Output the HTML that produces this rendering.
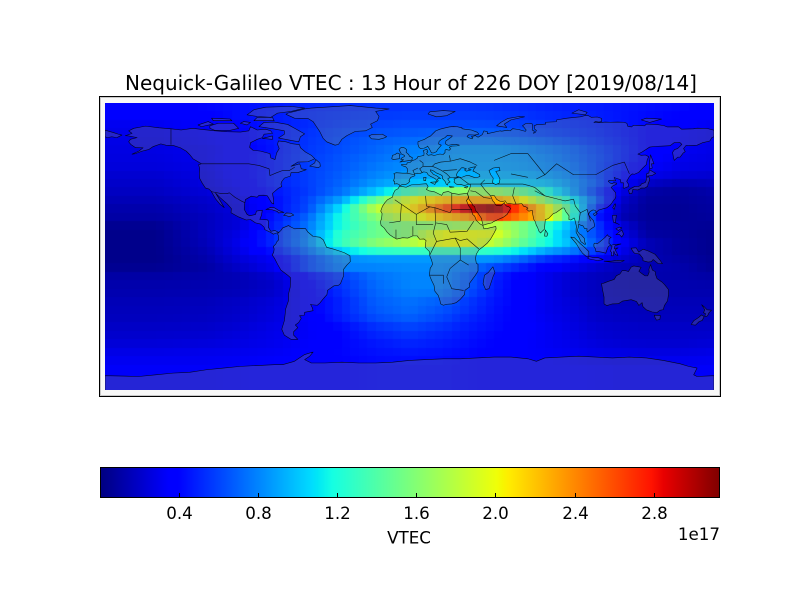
<!DOCTYPE html>
<html>
<head>
<meta charset="utf-8">
<style>
html,body{margin:0;padding:0;background:#fff;}
#wrap{position:relative;width:800px;height:600px;overflow:hidden;background:#fff;font-family:"DejaVu Sans","Liberation Sans",sans-serif;}
#fb{position:absolute;left:105px;top:103px;width:609px;height:287px;
background:
 radial-gradient(ellipse 45px 10px at 375px 108px,#a00000,rgba(255,96,0,0)),
 radial-gradient(ellipse 120px 28px at 360px 115px,#ffc000,rgba(255,255,0,0)),
 radial-gradient(ellipse 220px 50px at 330px 118px,#60ffa0,rgba(0,200,255,0)),
 radial-gradient(ellipse 300px 120px at 330px 100px,#1090ff,rgba(0,0,255,0)),
 #0000c0;}
#c{position:absolute;left:105px;top:103px;}
#ov{position:absolute;left:0;top:0;}
</style>
</head>
<body>
<div id="wrap">
<svg width="800" height="600" style="position:absolute;left:0;top:0">
<rect x="100" y="97" width="620" height="299" fill="#f7f7f7"/>
</svg>
<div id="fb"></div>
<canvas id="c" width="609" height="287"></canvas>
<script>
(function(){
var L=[-180,-150,-120,-100,-80,-60,-40,-20,0,20,35,50,65,80,95,110,125,140,160,180];
var R=[
[.37,.37,.40,.43,.46,.50,.52,.54,.55,.55,.55,.54,.52,.50,.48,.47,.45,.43,.41,.37],
[.35,.35,.38,.43,.47,.52,.55,.57,.58,.58,.58,.57,.55,.52,.50,.48,.45,.42,.39,.35],
[.31,.31,.35,.40,.46,.52,.57,.60,.62,.62,.62,.61,.59,.56,.53,.50,.46,.41,.36,.31],
[.29,.29,.33,.39,.46,.54,.60,.64,.66,.68,.68,.67,.64,.60,.56,.52,.46,.40,.34,.29],
[.28,.28,.32,.38,.46,.55,.62,.68,.72,.75,.75,.75,.72,.68,.62,.55,.48,.40,.33,.29],
[.27,.27,.30,.37,.45,.56,.63,.70,.78,.82,.85,.85,.82,.76,.70,.60,.50,.40,.32,.28],
[.26,.26,.30,.38,.46,.57,.65,.73,.80,.85,.87,.87,.85,.80,.72,.62,.50,.38,.30,.27],
[.25,.25,.28,.38,.46,.58,.66,.76,.83,.87,.88,.88,.87,.82,.75,.62,.47,.35,.28,.26],
[.22,.22,.27,.37,.48,.58,.68,.80,.88,.92,.93,.93,.92,.88,.80,.62,.44,.30,.24,.22],
[.20,.20,.26,.35,.48,.58,.70,.86,.98,1.02,1.02,1.02,1.02,.98,.85,.66,.38,.20,.14,.17],
[.18,.18,.24,.32,.45,.57,.74,1.0,1.35,1.58,1.65,1.65,1.50,1.22,.90,.58,.28,.11,.08,.12],
[.15,.15,.21,.28,.42,.60,.90,1.45,1.95,2.2,2.3,2.3,2.1,1.6,1.15,.68,.22,.08,.07,.10],
[.12,.12,.19,.26,.42,.62,1.10,1.80,2.05,2.55,2.95,3.10,2.60,2.10,1.35,.55,.18,.07,.06,.09],
[.10,.10,.17,.25,.45,.70,1.20,1.60,1.90,2.20,2.35,2.70,2.45,2.15,1.30,.50,.15,.07,.06,.08],
[.05,.05,.17,.25,.48,.75,1.20,1.50,1.60,1.65,1.72,1.80,1.60,1.30,.95,.58,.25,.08,.07,.06],
[.03,.03,.17,.28,.52,.78,1.28,1.50,1.60,2.0,2.0,1.95,1.60,1.25,.90,.60,.30,.10,.07,.04],
[.03,.03,.16,.30,.52,.80,1.30,1.60,1.75,2.0,2.0,1.80,1.50,1.20,.95,.65,.35,.15,.08,.04],
[.03,.03,.14,.28,.45,.72,1.05,1.25,1.30,1.30,1.30,1.25,1.12,.90,.78,.55,.30,.15,.08,.04],
[.03,.03,.12,.24,.33,.60,.82,.86,.86,.86,.85,.84,.72,.55,.45,.35,.22,.15,.10,.05],
[.05,.05,.10,.20,.30,.60,.78,.80,.82,.82,.75,.62,.50,.38,.30,.22,.16,.14,.12,.06],
[.10,.10,.12,.15,.22,.42,.58,.74,.80,.80,.68,.50,.38,.30,.22,.17,.14,.13,.12,.10],
[.12,.12,.13,.15,.20,.38,.55,.72,.80,.80,.66,.48,.37,.30,.22,.17,.14,.13,.13,.12],
[.13,.13,.14,.16,.21,.36,.53,.70,.78,.76,.62,.47,.37,.30,.22,.17,.15,.14,.13,.13],
[.15,.15,.16,.19,.24,.35,.50,.68,.74,.68,.56,.45,.38,.30,.24,.18,.16,.16,.15,.15],
[.16,.16,.17,.20,.25,.35,.50,.66,.72,.64,.54,.44,.37,.30,.25,.19,.17,.16,.16,.16],
[.17,.17,.18,.21,.26,.34,.48,.62,.68,.60,.50,.43,.37,.31,.26,.20,.18,.17,.17,.17],
[.19,.19,.20,.23,.28,.33,.42,.54,.60,.54,.47,.42,.37,.32,.27,.22,.20,.19,.19,.19],
[.21,.21,.22,.25,.29,.33,.40,.50,.55,.50,.45,.40,.36,.32,.28,.23,.21,.20,.20,.21],
[.24,.24,.25,.27,.30,.34,.40,.46,.50,.47,.43,.39,.35,.32,.29,.25,.23,.22,.22,.24],
[.28,.28,.29,.30,.32,.35,.40,.44,.46,.44,.41,.38,.35,.33,.31,.28,.27,.26,.26,.28],
[.31,.31,.31,.32,.34,.36,.39,.42,.43,.42,.40,.38,.36,.35,.33,.31,.30,.30,.30,.31],
[.33,.33,.33,.34,.35,.37,.39,.41,.41,.41,.40,.39,.37,.36,.35,.34,.33,.33,.33,.33],
[.33,.33,.33,.34,.35,.37,.39,.41,.41,.41,.40,.39,.37,.36,.35,.34,.33,.33,.33,.33],
[.33,.33,.33,.34,.35,.37,.39,.41,.41,.41,.40,.39,.37,.36,.35,.34,.33,.33,.33,.33]
];
function itp(x,xs,ys){if(x<=xs[0])return ys[0];for(var i=1;i<xs.length;i++){if(x<=xs[i]){var f=(x-xs[i-1])/(xs[i]-xs[i-1]);return ys[i-1]+f*(ys[i]-ys[i-1]);}}return ys[ys.length-1];}
function jet(t){t=Math.max(0,Math.min(1,t));
var r=itp(t,[0,.35,.66,.89,1],[0,0,1,1,.5]);
var g=itp(t,[0,.125,.375,.64,.91,1],[0,0,1,1,0,0]);
var b=itp(t,[0,.11,.34,.65,1],[.5,1,1,0,0]);
return 'rgb('+Math.round(r*255)+','+Math.round(g*255)+','+Math.round(b*255)+')';}
var cv=document.getElementById('c');if(!cv.getContext)return;var ctx=cv.getContext('2d');
var W=609,H=287,cw=W/72,rh=H/34;
for(var r=0;r<34;r++){var y0=Math.round(r*rh),y1=Math.round((r+1)*rh);
for(var c=0;c<72;c++){var lon=-177.5+5*c;var v=itp(lon,L,R[r]);ctx.fillStyle=jet(v/3.131);
var x0=Math.round(c*cw),x1=Math.round((c+1)*cw);ctx.fillRect(x0,y0,x1-x0,y1-y0);}}
})();
</script>
<svg id="ov" width="800" height="600" xmlns="http://www.w3.org/2000/svg">
<defs>
<clipPath id="mc"><rect x="105" y="103" width="609" height="287"/></clipPath>
<linearGradient id="jet" x1="0" y1="0" x2="1" y2="0">
<stop offset="0" stop-color="#000080"/>
<stop offset="0.11" stop-color="#0000ff"/>
<stop offset="0.125" stop-color="#0000ff"/>
<stop offset="0.34" stop-color="#00dbff"/>
<stop offset="0.35" stop-color="#00e6f7"/>
<stop offset="0.375" stop-color="#15ffe2"/>
<stop offset="0.64" stop-color="#efff08"/>
<stop offset="0.65" stop-color="#f7f600"/>
<stop offset="0.66" stop-color="#ffec00"/>
<stop offset="0.89" stop-color="#ff1300"/>
<stop offset="0.91" stop-color="#e80000"/>
<stop offset="1" stop-color="#800000"/>
</linearGradient>
</defs>
<g clip-path="url(#mc)">
<g transform="translate(409.5,246.5) scale(1.691667,-1.688235)" fill="rgba(128,128,128,0.29)" stroke="#000" stroke-opacity="0.85" stroke-width="0.6" stroke-linejoin="round" fill-rule="evenodd">
<path vector-effect="non-scaling-stroke" d="M-166,68.5 -163,70 -156,71.3 -148,70.3 -141,69.7 -135,69 -128,70 -124,69.5 -115,68.5 -108,68 -100,67.8 -95,68.5 -94,71 -90,69 -85,69.5 -82,68.5 -81,67 -86,66.5 -87,64.5 -90,63.5 -94,61.5 -94.5,58.7 -92.5,57 -88,56.5 -82.5,55 -82,52.5 -79.5,51.5 -78.5,55.5 -77,58 -78,60.5 -77.5,62.5 -73,62 -70,61 -65,60.3 -64.5,58.5 -61.5,56 -58,54 -56,52 -60,50.2 -66,50 -70,47.5 -65,49 -64.5,48 -64,46 -61,45.5 -66,43.8 -70,43.8 -70.5,41.7 -74,40.5 -75.5,38.5 -76,37 -75.5,35.5 -77.5,34.5 -81,31.5 -80.3,27.5 -80.3,25.2 -81.5,25.8 -82.8,28 -84,30 -86,30.4 -89,30.3 -90,29.2 -93.5,29.8 -97,27.8 -97.5,25 -97.7,22 -96,19 -94.5,18.2 -91,19 -90.5,21 -87,21.5 -87.5,18.5 -88.5,16 -84,15.8 -83.3,15 -83.5,11.5 -82,9 -79.5,9.5 -77.3,8.3 -78.5,8 -80.5,7.3 -82,8.3 -85.5,10 -86,11.5 -88,13.3 -91,14 -94,16 -96.5,15.7 -101,17.5 -105.5,20 -105.3,22.5 -108,25.5 -112,29 -114.7,31.7 -113,29 -109.5,23 -112,25 -114.5,28 -116.7,31.8 -117.2,32.7 -118.5,34 -120.6,34.6 -122.5,37.5 -124,40.3 -124.2,43 -124,46.3 -124.7,48.4 -123,49 -125.5,50.5 -128,52 -130,54.5 -132,56.5 -135.5,58.5 -139.5,59.8 -144,60 -147,60.8 -151.5,59.2 -154,57.5 -158,56.5 -162,55 -164,54.7 -160,56.5 -157.5,58.5 -162,58.6 -164.8,60.5 -166,62 -165,63.5 -161,64.5 -166,65.5 -168,65.6 -164,67 -166,68.5 Z"/>
<path vector-effect="non-scaling-stroke" d="M-59,47.6 -56,49.5 -55.5,51.6 -53,49.5 -52.7,47.5 -53.8,46.7 -55.5,47 Z"/>
<path vector-effect="non-scaling-stroke" d="M-80,73.7 -72,72.3 -67,69.5 -62,66.7 -64.5,65 -65.5,62 -70,62.8 -77.5,64.3 -74,66.5 -74,68.5 -81,69.8 -89,71 -86,73.5 Z"/>
<path vector-effect="non-scaling-stroke" d="M-118,71.5 -113,73 -104,73 -101,70 -106,68.8 -115,68.8 -118,70 Z"/>
<path vector-effect="non-scaling-stroke" d="M-125,72 -119,74 -116,72.5 -123,71 Z"/>
<path vector-effect="non-scaling-stroke" d="M-117,76 -106,75.5 -105,74.5 -116,74.5 Z"/>
<path vector-effect="non-scaling-stroke" d="M-92,74.5 -80,74.5 -81,76.5 -90,76.5 Z"/>
<path vector-effect="non-scaling-stroke" d="M-90,77 -82,76.5 -78,79 -70,80 -62,82 -70,83 -85,82.5 -92,81 -96,78 Z"/>
<path vector-effect="non-scaling-stroke" d="M-87,64 -81,65.5 -81,63.5 Z"/>
<path vector-effect="non-scaling-stroke" d="M-100,73 -96,72 -94,73.5 -98,74 Z"/>
<path vector-effect="non-scaling-stroke" d="M-73,78.3 -68,76 -60,75.8 -57,74 -55,71 -53,68 -51,64 -49,62 -44,60 -42,60.5 -40,63.5 -37,65.7 -32,68.2 -26,68.5 -22,70.5 -23,72.5 -19,74.5 -18,77 -20,80 -12,81.5 -20,82 -35,83.5 -50,82.5 -58,82 -62,81.5 -68,80 -72,79 Z"/>
<path vector-effect="non-scaling-stroke" d="M-24,65.5 -22,66.4 -16,66.5 -13.5,65 -15,64.3 -18,63.5 -22.5,63.8 Z"/>
<path vector-effect="non-scaling-stroke" d="M-180,68.9 -175,67.5 -172,66.5 -170,66 -171,65.5 -173,64.5 -176,65 -178.5,64.5 -180,65 Z"/>
<path vector-effect="non-scaling-stroke" d="M-84.9,21.9 -82,23.2 -80,23 -77,21.2 -74.2,20.2 -77.5,19.9 -78,20.7 -81,21.7 -83.5,22 Z"/>
<path vector-effect="non-scaling-stroke" d="M-74.4,18.4 -72.7,19.9 -70,19.7 -68.4,18.6 -71.4,17.6 -72.5,18.2 Z"/>
<path vector-effect="non-scaling-stroke" d="M-77.3,8.3 -76,9.5 -75,11 -71.5,12.4 -70,11.5 -68,10.5 -64,10.7 -61.5,10.6 -60,8.5 -57,6 -53,5.5 -51,4 -50,1.8 -49,-0.5 -45,-1.5 -41,-2.8 -38.5,-3.7 -35.2,-5.5 -35,-9 -37,-11 -39,-13.5 -39,-17.5 -40.8,-22 -42,-23 -44.7,-23.3 -48.5,-26 -48.8,-28.5 -51,-31 -53,-33.5 -54.5,-34.8 -57.5,-34.5 -58.5,-34.2 -57.5,-36.2 -57,-38 -62,-39 -62.3,-40.8 -65,-41 -64,-42.5 -65.5,-45 -67.5,-46.5 -66,-48 -68.5,-50.5 -68.5,-52.5 -66,-55 -70,-55 -74,-52.5 -75.5,-49 -74,-44 -73.5,-40 -73.2,-37 -71.5,-32 -71.5,-28 -70.5,-24 -70.3,-18.5 -72,-17 -76,-14 -78,-10.5 -79.8,-7 -81.2,-5 -80.3,-3.5 -80,-1.5 -80.5,0 -79,1.5 -78.5,2.7 -77.3,4 -77.5,6.5 -78,7.5 Z"/>
<path vector-effect="non-scaling-stroke" d="M-5.9,35.8 -2,35.1 1,36.5 5,36.8 10,37.2 11,35.5 10,33.8 11.5,33 15,32.3 19,30.3 20,32 23,32.6 25,31.6 29,30.9 32.3,31.3 34.2,31.3 34.9,29.5 34.3,27.8 33.6,27.4 35,24 36.5,22 37.3,19 38.5,18 39.5,15.5 41.5,13.5 43.3,12.5 44,10.5 46,10.7 51,11.9 51.2,10.4 50,8 48,4.5 46,2 43,-0.5 41,-2 39.5,-4.5 39,-7 39.5,-10 40.5,-10.5 40.5,-14.5 39,-17 35.3,-22 35.5,-24 32.8,-25.9 32.5,-28.5 30,-31.3 27.5,-33.3 25,-34 22,-34.2 20,-34.8 18.4,-34 18,-32 17,-29 15,-26.5 14.5,-23 13,-20 11.8,-17 12.2,-13 13.7,-10.5 13,-8 12,-5.5 11.8,-3 9.3,-0.5 9.5,2 9.8,3.5 8.5,4.5 6,4.3 4.5,6.3 2,6.3 -1,5 -4,5.2 -7.5,4.4 -9.5,5.5 -11.5,6.8 -13.2,8.5 -15,11 -16.8,12.5 -17.2,14.7 -16.5,16.5 -16.2,19.5 -17,21 -16,23.8 -14.5,26 -13,27.7 -10,29.3 -9.7,31 -8.5,33.3 -6.8,34.2 Z"/>
<path vector-effect="non-scaling-stroke" d="M49.3,-12 50.5,-15.5 49.5,-17.5 47,-25 45,-25.5 43.5,-22 44.3,-17 46.5,-15.5 Z"/>
<path vector-effect="non-scaling-stroke" d="M-5.6,36 -6.3,36.8 -7.5,37.2 -8.9,37 -8.8,38.7 -9.5,38.8 -8.8,41 -8.8,42.5 -9.3,43.1 -8,43.7 -4,43.4 -1.5,43.4 -1.2,44.6 -1.2,46 -2.2,47.2 -4.5,47.9 -4.7,48.6 -1.6,48.7 -1.4,49.6 0.2,49.7 1.6,50.9 3,51.3 4.5,52.2 5,53.3 7,53.6 8.5,54 8.6,55.5 8.1,56.8 10,57.6 10.6,57.1 10.3,56.3 10.9,56 10,55 11,54 13,54.4 14.5,53.9 18,54.8 19.9,54.5 21,55.6 21,57 21.6,57.5 23.5,57 24.3,57.8 23.5,58.8 25,59.5 28,59.6 29.5,60 28,60.5 25,60.3 22.8,59.9 21.3,60.8 21.5,62.5 25,65 25.3,65.5 22.3,65.8 21,64.5 19,63.5 17.5,62.3 17.2,60.7 18.8,60 16.5,57.3 16,56.2 14.2,55.4 12.9,55.5 12.6,56.2 11.8,57.7 11,59 10.5,59.5 10.3,59 8.5,58.2 6.5,58 5.6,58.8 5,60.5 5,62 7,62.8 9,63.5 10.5,64.5 12.5,65.5 14,67 15.5,68.5 18,69.5 20,70 23.5,70.8 25.8,71.1 28,71 31,70.3 31,69.8 33,69.4 36.5,69 40,67.7 41,66.6 38.5,66 35,66.2 34,65.2 34.8,64.5 37,63.8 37.5,64.5 36.5,65 39,65.7 40.5,64.7 43,66.3 44,68.5 46,68 46,66.8 53.5,68.5 54.5,68.3 58,68.9 59.5,68.5 61,69.8 64.5,69.3 68.5,68.2 69,69 67.5,70.8 66.8,71.5 68.5,72.7 69.5,73 72.5,72.7 72.8,70.9 72.5,69 73.8,68.3 73.3,67 74.5,67.7 75,68.8 74,69.5 73.7,71.5 75.5,72.3 78,72.3 80.5,72.5 80.5,73.6 86.8,73.9 87,75 93,76 98,76.5 101,76.8 104.3,77.7 106,77.4 107.5,76.5 111,76.7 113.5,75.9 113.5,74 112,73.7 110,74 109,73.5 113,73.4 115.6,73.7 118.8,73.6 123,73.7 126.7,73.6 128.5,73 129,71.2 131.3,70.8 132.3,71.8 135.5,71.7 139,71.5 140,72.5 146,72.3 150.4,71.6 152.5,70.8 159,70.9 160.8,69.5 167.8,69.7 170,70.1 176,69.9 180,68.9 180,65 178.7,64.5 177.5,62.5 173,61.4 170,60 166,59.8 163.5,59.9 162,58 163,56.2 161.7,55.3 160,53 158.5,52.9 156.5,51 156,53 155.5,55.8 156.7,57.4 158.5,58 161,60.5 159.8,61.6 156.5,61.5 154,59.7 150,59.5 145.5,59.3 142,58.9 137.5,56 135,54.7 137,54 139.5,54.2 141.4,53.2 140.5,51.3 140,48.5 138,46.6 135.5,43.9 133,42.8 131.7,43 130.7,42.3 129.7,40.9 128.4,38.6 129.4,37 129.4,35.5 127,34.5 126.3,34.7 126.5,37.7 125,37.7 124.7,39.6 122,40.5 121,40.9 121.8,39 121.1,38.9 118,39.2 117.5,38.6 118.8,37.5 119.7,37.2 120.8,37.8 122.5,37.5 122.3,36.9 120.3,36 119.2,35 120.5,33.5 121.9,31.8 121.9,30.9 122,29.8 121.5,28.3 120.4,27 119.6,25.7 118.6,24.5 116.5,22.9 114.2,22.3 111.8,21.6 110.5,20.3 109.8,21.4 108.5,21.7 106.7,20.7 105.7,19 107.4,16.7 108.8,15.3 109.3,13 109.2,11.7 107.2,10.4 105.2,8.6 104.8,9.6 105,10.5 103.5,10.6 102.6,12.2 101,12.7 100,13.4 100,12.3 99.2,9.2 100.5,7.4 101.6,6.8 103.4,4.8 103.5,2.8 104.2,1.4 103.5,1.3 101.4,2.8 100.2,5.3 98.5,8.4 98.5,10.7 98.8,11.4 97.7,16 97.3,16.9 95.4,15.7 94.2,16 94.3,18.2 92.4,20.7 91.4,22.8 90.5,22.8 88.9,21.7 86.5,20 85,19.5 82.2,16.6 80.3,15.9 80,13 79.8,10.3 78.3,8.9 77.5,8 76.6,8.9 75.7,11.3 74.9,12.7 74.4,14.6 73.5,16 72.8,19.2 72.6,21.4 70.5,20.9 69.2,22.1 70,22.7 68.8,23.5 67.4,23.9 66.4,25.4 64.5,25.2 61.5,25.1 58.5,25.6 57.4,25.7 56.5,27.1 54.7,26.5 53.5,26.8 51.5,27.9 50.1,30.2 48.9,30.3 48,29.9 48.8,28 49.3,26.9 50.2,26 50.8,24.7 51.6,24.2 52.6,24.2 54,24.1 55.4,25.4 56.1,26.1 56.4,24.9 57.4,23.9 58.7,23.6 59.8,22.5 58.5,20.4 57.7,19 56.3,17.9 55.2,17.2 52.2,15.9 49.6,14.7 48.7,14 45.6,13.3 43.5,12.6 42.7,15.7 42.7,16.4 41.2,18.7 40.2,20.2 39.1,21.3 38.5,23.7 37.5,24.3 36.9,25.6 35.1,28 34.9,29.5 34.2,31.3 35,33 35.9,35.3 36,36.8 34.6,36.8 32.5,36.1 30.6,36.7 29.2,36.6 27.6,37 26.3,38.2 26.8,39.5 26.2,40 27.3,40.4 29,41 31.2,41.1 33.5,42 35.2,42 38.3,40.9 40.4,41 41.6,41.5 41.5,42.6 40,43.4 38.5,44.3 37.5,44.7 38.2,46.2 39.2,47.3 37.4,47 35,46.3 35,45.7 36.5,45.4 33.6,44.6 32.5,45.4 33.6,46 31.7,46.7 30.7,46.6 29.6,45.3 28.6,44.3 27.7,42.6 28,41.6 29,41.2 27,41 26,40.8 24,40.8 23,40.4 22.6,40 23.3,39 24,38.2 22.8,37.6 22.5,36.4 21.7,36.9 21.2,38.3 20.2,39.5 19.4,40.3 19.5,41.7 18.5,42.5 16,43.5 15,44.2 13.6,45.1 12.3,45.4 12.5,44.5 13.6,43.5 14,42.8 16,41.9 18.4,40.2 17.3,40.5 16.5,39.8 17,38.9 16.1,38 15.6,38.2 16.2,39 15.4,40 14,40.8 12.5,41.5 11,42.5 10.2,43.9 8.4,44.2 7.5,43.8 6,43.1 4.5,43.4 3.1,43.1 3.2,41.9 0.8,41 0,39.8 -0.3,39 0.2,38.7 -0.7,37.6 -2.2,36.7 -4.4,36.7 -5.4,36 Z M47,45 49.5,46.5 53,47 53.5,45 51,44.5 52.5,42 53.5,40 53,37.5 51,36.7 49,37.6 49.5,40.5 48,42.5 Z"/>
<path vector-effect="non-scaling-stroke" d="M-5.7,50 1.4,51.2 1.7,52.6 0,53.5 -0.5,54.5 -2,55.8 -1.8,57.5 -3.3,58.6 -5,58.6 -6.2,57.5 -5.5,56 -4.8,54.8 -3,54 -3,53.3 -4.5,52.5 -5.2,51.7 -3.5,51.4 Z"/>
<path vector-effect="non-scaling-stroke" d="M-6,52 -6,53.8 -5.5,54.6 -7.3,55.4 -8.5,54.5 -10,54 -10.5,52 -9.5,51.5 Z"/>
<path vector-effect="non-scaling-stroke" d="M12.4,38 15.6,38.3 15,36.7 Z M8.4,41 9.8,41 9.5,39 8.5,39 Z M23.5,35.5 26.3,35.2 24,35 Z M32.3,35.1 34.5,35.6 33.8,34.6 Z"/>
<path vector-effect="non-scaling-stroke" d="M51.5,71.5 57.5,70.5 56,72.5 60,75 68,76.8 65,77 58,75.8 54,73.5 Z"/>
<path vector-effect="non-scaling-stroke" d="M11,78.5 16,76.8 22,77.5 27,80 20,80.5 12,79.8 Z"/>
<path vector-effect="non-scaling-stroke" d="M96,79 104,78 105,79.5 100,81 Z M137,75 142,73.5 149,75.5 140,76 Z"/>
<path vector-effect="non-scaling-stroke" d="M130,31.3 131.5,31.5 132,33.8 135,33.5 136,34 137,34.6 139,34.6 140.8,35.7 141,37 141.6,38.5 142,39.6 141.4,41.4 140,40.8 140,39.5 139.5,38 137,37 136.7,36.2 135.5,35.6 133,35.5 131,34.4 129.5,33.3 Z"/>
<path vector-effect="non-scaling-stroke" d="M140,41.5 141,41.8 143.3,42 145.5,43.3 144,44.2 141.8,45.5 141.5,43.5 140.3,43.2 Z"/>
<path vector-effect="non-scaling-stroke" d="M142,46 143.5,46.5 143,49 144.5,49 142.5,54.3 142,51 141.8,48 Z"/>
<path vector-effect="non-scaling-stroke" d="M120.1,23 121,22 121.9,25 121.5,25.3 Z M108.6,19.2 110,20.1 111,19.6 109.5,18.2 Z M79.8,6.2 80.3,9.8 81.8,7.5 81.2,6.1 Z"/>
<path vector-effect="non-scaling-stroke" d="M120,18.5 122.3,18.5 122,16.5 121.6,14.2 124,13 123,13.5 120.6,14.4 120.3,16 Z M122,7 125.5,9.8 126.6,7.3 125.4,5.6 124,7.3 Z M122,10.5 124,11.5 125.5,11 123.5,9.5 Z"/>
<path vector-effect="non-scaling-stroke" d="M95.3,5.6 97.5,5.2 100.3,2.3 104,-1 106,-3 106,-5.8 104.5,-5.9 102.3,-4 100.5,-1.5 98.6,1.7 Z"/>
<path vector-effect="non-scaling-stroke" d="M105.2,-6.8 106.3,-6 108.5,-6.5 111,-6.4 112.7,-7 114.5,-7.8 111,-8.3 106.4,-7.4 Z"/>
<path vector-effect="non-scaling-stroke" d="M109,1.5 109.6,2 111,1.6 113,3.2 115.5,5.3 117,7 117.7,6 119.2,5.4 118,4.6 117.9,1.8 119,0.9 117.5,0 116.5,-2.5 116,-4 114.5,-3.5 111.7,-3 110.2,-3 110,-1.5 109,0 Z"/>
<path vector-effect="non-scaling-stroke" d="M119,0.2 120,1 125,1.5 121.5,0.5 121,-1.2 123.3,-0.8 121.5,-1.9 122.4,-3.5 123.2,-5.3 122,-4.9 121.5,-4.5 120.8,-2.7 120.4,-5.5 119.4,-5.5 119.5,-3.5 118.8,-2.8 119.8,0 Z"/>
<path vector-effect="non-scaling-stroke" d="M131,-1 134,-0.8 135.5,-3.3 138,-1.6 141,-2.6 145,-4.5 146,-5.6 148,-8 149.5,-10.2 147,-10.1 144,-7.7 143,-9 141,-9.2 138,-8.4 138,-7 136,-4.5 133,-4 132,-2.8 Z"/>
<path vector-effect="non-scaling-stroke" d="M115,-8.7 119,-8.7 123,-8.2 127,-8.3 125,-9.2 119,-9.2 Z"/>
<path vector-effect="non-scaling-stroke" d="M113.5,-22 114.2,-26 115,-30 115,-34 116.7,-35 119.9,-34 123.5,-33.9 126,-32.3 131,-31.5 134.2,-32.6 135.6,-34.9 137.5,-33.2 138,-35.6 140,-37.5 143.5,-38.8 146.3,-39.1 148,-37.8 150,-37.4 150.7,-34.9 152.5,-32.2 153.1,-28.5 153.1,-25.5 150.8,-22.6 149.2,-21 146.3,-19 145.4,-16.5 145.3,-14.9 143.6,-14 142.5,-10.7 141.5,-13.5 141.7,-15.1 140.8,-17.4 139.3,-17.4 137.3,-16 135.6,-14.7 136.9,-12.3 134.7,-11.9 132.6,-11.5 131,-12.2 129.4,-14.9 127.8,-14.3 125.7,-14.3 124.4,-16.3 122.3,-17.3 121,-19.5 117.4,-20.7 114.6,-21.8 Z"/>
<path vector-effect="non-scaling-stroke" d="M144.7,-40.7 148.3,-40.9 148,-43.2 146,-43.6 145.2,-42.2 Z"/>
<path vector-effect="non-scaling-stroke" d="M172.7,-34.5 174.5,-36 175.9,-37.5 178.5,-37.7 177,-39.3 176.2,-41 175.2,-41.6 174.6,-41.2 175,-39.8 173.8,-39.2 174.6,-37.5 Z M172.6,-40.5 174.2,-41.5 173,-43.8 171.2,-44.5 169,-46.6 166.5,-46.2 168,-44 171,-42 Z"/>
<path vector-effect="non-scaling-stroke" d="M-180,-76.5 -160,-77 -150,-76 -140,-75 -130,-74.5 -120,-73 -110,-72 -100,-71 -90,-70.5 -80,-70 -75,-70 -68,-68 -62,-64 -57,-62.5 -59,-65 -62,-67 -58,-69 -50,-69 -40,-68.5 -30,-69 -20,-69 -10,-68.5 0,-67.5 10,-67 20,-66.5 30,-66.5 40,-66 50,-65.5 60,-65.5 70,-66.5 75,-68 80,-66 90,-65.5 100,-65 110,-65.5 120,-66 130,-65.5 140,-66 150,-67.5 160,-69.5 165,-71 170,-72 168,-76 170,-77 180,-76.5 180,-92 -180,-92 Z"/>
<g fill="none">
<path vector-effect="non-scaling-stroke" d="M-141,69.7 -141,60.3 M-123,49 -95,49 -89,48 -83,46 -82.5,42 -79,43.5 -75,45 -71,45 -67.8,47 M-117.1,32.5 -111,31.3 -108,31.3 -106.5,31.8 -103,29 -99.5,27 -97.2,25.9"/>
<path vector-effect="non-scaling-stroke" d="M25,31.6 25,22 36.9,22 M25,22 24,20 15,23 12,23.5 4,19 -4.8,25 -8.7,27.7 M9.5,30 10,24 12,23.5 M15,23 15.5,14 22,13 24,8.5 34,9 38,15 M-4.8,25 -5.5,15 -12,14 M4,19 4,13 14,13 M15.5,14 14,8 16,3 27,5 30,3.5 34,4.5 41,-1.5 M16,3 12,-5 M27,5 30,-1 30,-8 24,-13 22,-18 M30,-8 35,-11 M22,-18 25,-25 32,-26 M12,-17 20,-17 20,-22 M2,6.3 2,12 M-8,5 -8,10"/>
<path vector-effect="non-scaling-stroke" d="M24,41 22,43 19,45 16,46.5 13.5,47.5 8,47.5 6,46 7.5,43.8 M8,47.5 8,49.5 6,51 M13.5,47.5 15,49 18.5,50 24,50.5 24,52 23.5,54 M24,50.5 30,52 36,50 40,48 M3,43 2,45 5,46.5 M-1.5,43.4 3,42.5 M20,45 28,45.5 M29,41.5 35,37 42,37 44.5,39.5 M42,37 45,33 48,30 M36,33 39,32.5 M39,32.5 44,29 48,28.5 M42,37 50,37.5 M52,37 60,37 67,37 M62,35 61,30 63,25 M71,36 74,35 80,30 88,28 92,27 97,28 M80,30 74,33 M67,37 71,36 M75,40 80,42.5 87,49 M60,43 70,41 M87,49 97,42.5 110,42.5 120,48 M97,28 98,24 101,20 105,22 M101,20 100,14 M105,22 107,15 M80,42.5 70,55 60,55 50,51 M120,48 127,50 130,43"/>
</g>
</g>
</g>
<rect x="99.5" y="96.5" width="621" height="300" fill="none" stroke="#000" stroke-width="1"/>
<rect x="100.5" y="97.5" width="619" height="298" fill="none" stroke="#c8c8c8" stroke-width="1"/>
<text x="411" y="90" font-family="DejaVu Sans, Liberation Sans, sans-serif" font-size="20" text-anchor="middle" fill="#000">Nequick-Galileo VTEC : 13 Hour of 226 DOY [2019/08/14]</text>
<rect x="100.5" y="467.5" width="619" height="30" fill="url(#jet)" stroke="#000" stroke-width="1"/>
<g stroke="#000" stroke-width="1">
<line x1="179.5" y1="493" x2="179.5" y2="497.5"/>
<line x1="258.5" y1="493" x2="258.5" y2="497.5"/>
<line x1="337.5" y1="493" x2="337.5" y2="497.5"/>
<line x1="416.5" y1="493" x2="416.5" y2="497.5"/>
<line x1="495.5" y1="493" x2="495.5" y2="497.5"/>
<line x1="575.5" y1="493" x2="575.5" y2="497.5"/>
<line x1="654.5" y1="493" x2="654.5" y2="497.5"/>
</g>
<g font-family="DejaVu Sans, Liberation Sans, sans-serif" font-size="16.7" text-anchor="middle" fill="#000">
<text x="179.5" y="519">0.4</text>
<text x="258.5" y="519">0.8</text>
<text x="337.5" y="519">1.2</text>
<text x="416.5" y="519">1.6</text>
<text x="495.5" y="519">2.0</text>
<text x="575.5" y="519">2.4</text>
<text x="654.5" y="519">2.8</text>
<text x="409" y="543.5">VTEC</text>
<text x="720" y="540" text-anchor="end">1e17</text>
</g>
</svg>
</div>
</body>
</html>
